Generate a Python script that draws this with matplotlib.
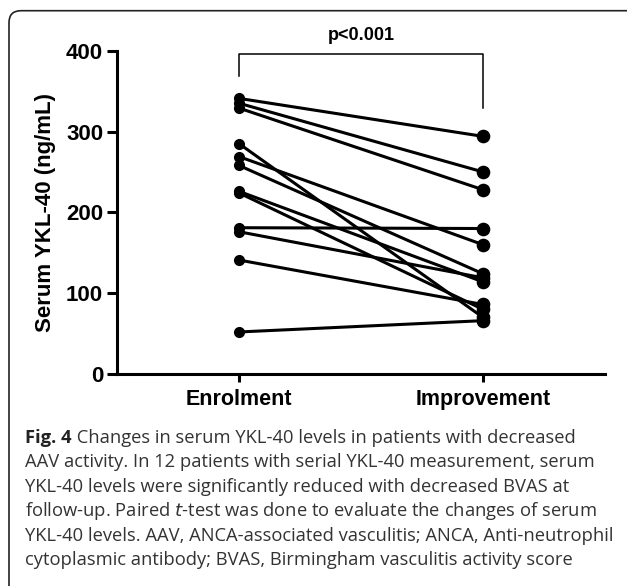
import matplotlib
matplotlib.use("Agg")
import matplotlib.pyplot as plt
from matplotlib.patches import FancyBboxPatch

# ---- data ----
categories = ["Enrolment", "Improvement"]
enrolment = [341, 335, 329, 285, 269, 258, 226, 224, 181, 176, 141, 52]
improvement = [294, 250, 228, 70, 160, 124, 114, 80, 180, 119, 86, 66]
y_ticks = [0, 100, 200, 300, 400]
p_label = "p<0.001"
y_label = "Serum YKL-40 (ng/mL)"
caption_lines = [
    ("Fig. 4", " Changes in serum YKL-40 levels in patients with decreased"),
    ("", "AAV activity. In 12 patients with serial YKL-40 measurement, serum"),
    ("", "YKL-40 levels were significantly reduced with decreased BVAS at"),
    ("", "follow-up. Paired $\\it{t}$-test was done to evaluate the changes of serum"),
    ("", "YKL-40 levels. AAV, ANCA-associated vasculitis; ANCA, Anti-neutrophil"),
    ("", "cytoplasmic antibody; BVAS, Birmingham vasculitis activity score"),
]

W, H = 627, 586
fig = plt.figure(figsize=(W / 100, H / 100), dpi=100)

def fx(px):
    return px / W

def fy(py):
    return 1 - py / H

# axes placement
left, right, top, bottom = 117, 605, 50.7, 374
ax = fig.add_axes([fx(left), fy(bottom), fx(right - left), (bottom - top) / H])
ax.set_xlim(-0.5, 1.5)
ax.set_ylim(0, 400)

bold = dict(family=["Liberation Sans", "DejaVu Sans"], weight="bold")

for e, i in zip(enrolment, improvement):
    ax.plot([0, 1], [e, i], color="black", lw=2.2, zorder=2, clip_on=False,
            solid_capstyle="round")
ax.plot([0] * len(enrolment), enrolment, "o", color="black", ms=7,
        zorder=3, clip_on=False)
ax.plot([1] * len(improvement), improvement, "o", color="black", ms=8.8,
        zorder=3, clip_on=False)

for s in ["top", "right"]:
    ax.spines[s].set_visible(False)
for s in ["left", "bottom"]:
    ax.spines[s].set_linewidth(2.2)

ax.set_yticks(y_ticks)
ax.set_yticklabels([str(v) for v in y_ticks], fontsize=16, **bold)
ax.set_xticks([0, 1])
ax.set_xticklabels(categories, fontsize=15.5, **bold)
ax.tick_params(axis="y", length=7, width=2.2, pad=3)
ax.tick_params(axis="x", length=6, width=2.2, pad=5)
ax.set_ylabel(y_label, fontsize=16, labelpad=7, **bold)

# significance bracket
ax.plot([0, 0, 1, 1], [369, 396, 396, 329], color="black", lw=1.1,
        clip_on=False)
ax.text(0.5, 419, p_label, ha="center", va="center", fontsize=13, **bold)

# rounded border box
box = FancyBboxPatch((9, -30), 700, H - 10.7 + 30,
                     boxstyle="round,pad=0,rounding_size=12",
                     transform=None, fill=False, edgecolor="#222222", lw=1.2)
fig.add_artist(box)

# caption
cap_font = ["Open Sans", "DejaVu Sans"]
cap_size = 13.2
y0 = 438
for k, (b, rest) in enumerate(caption_lines):
    ypix = y0 + k * 24.4
    x = 25
    if b:
        t = fig.text(fx(x), fy(ypix), b, ha="left", va="center", fontsize=cap_size,
                     family=cap_font, weight="bold", color="#222222")
        fig.canvas.draw()
        bb = t.get_window_extent()
        x = bb.x1
    fig.text(fx(x), fy(ypix), rest, ha="left", va="center", fontsize=cap_size,
             family=cap_font, color="#333333")

fig.savefig("out.png", dpi=100)
